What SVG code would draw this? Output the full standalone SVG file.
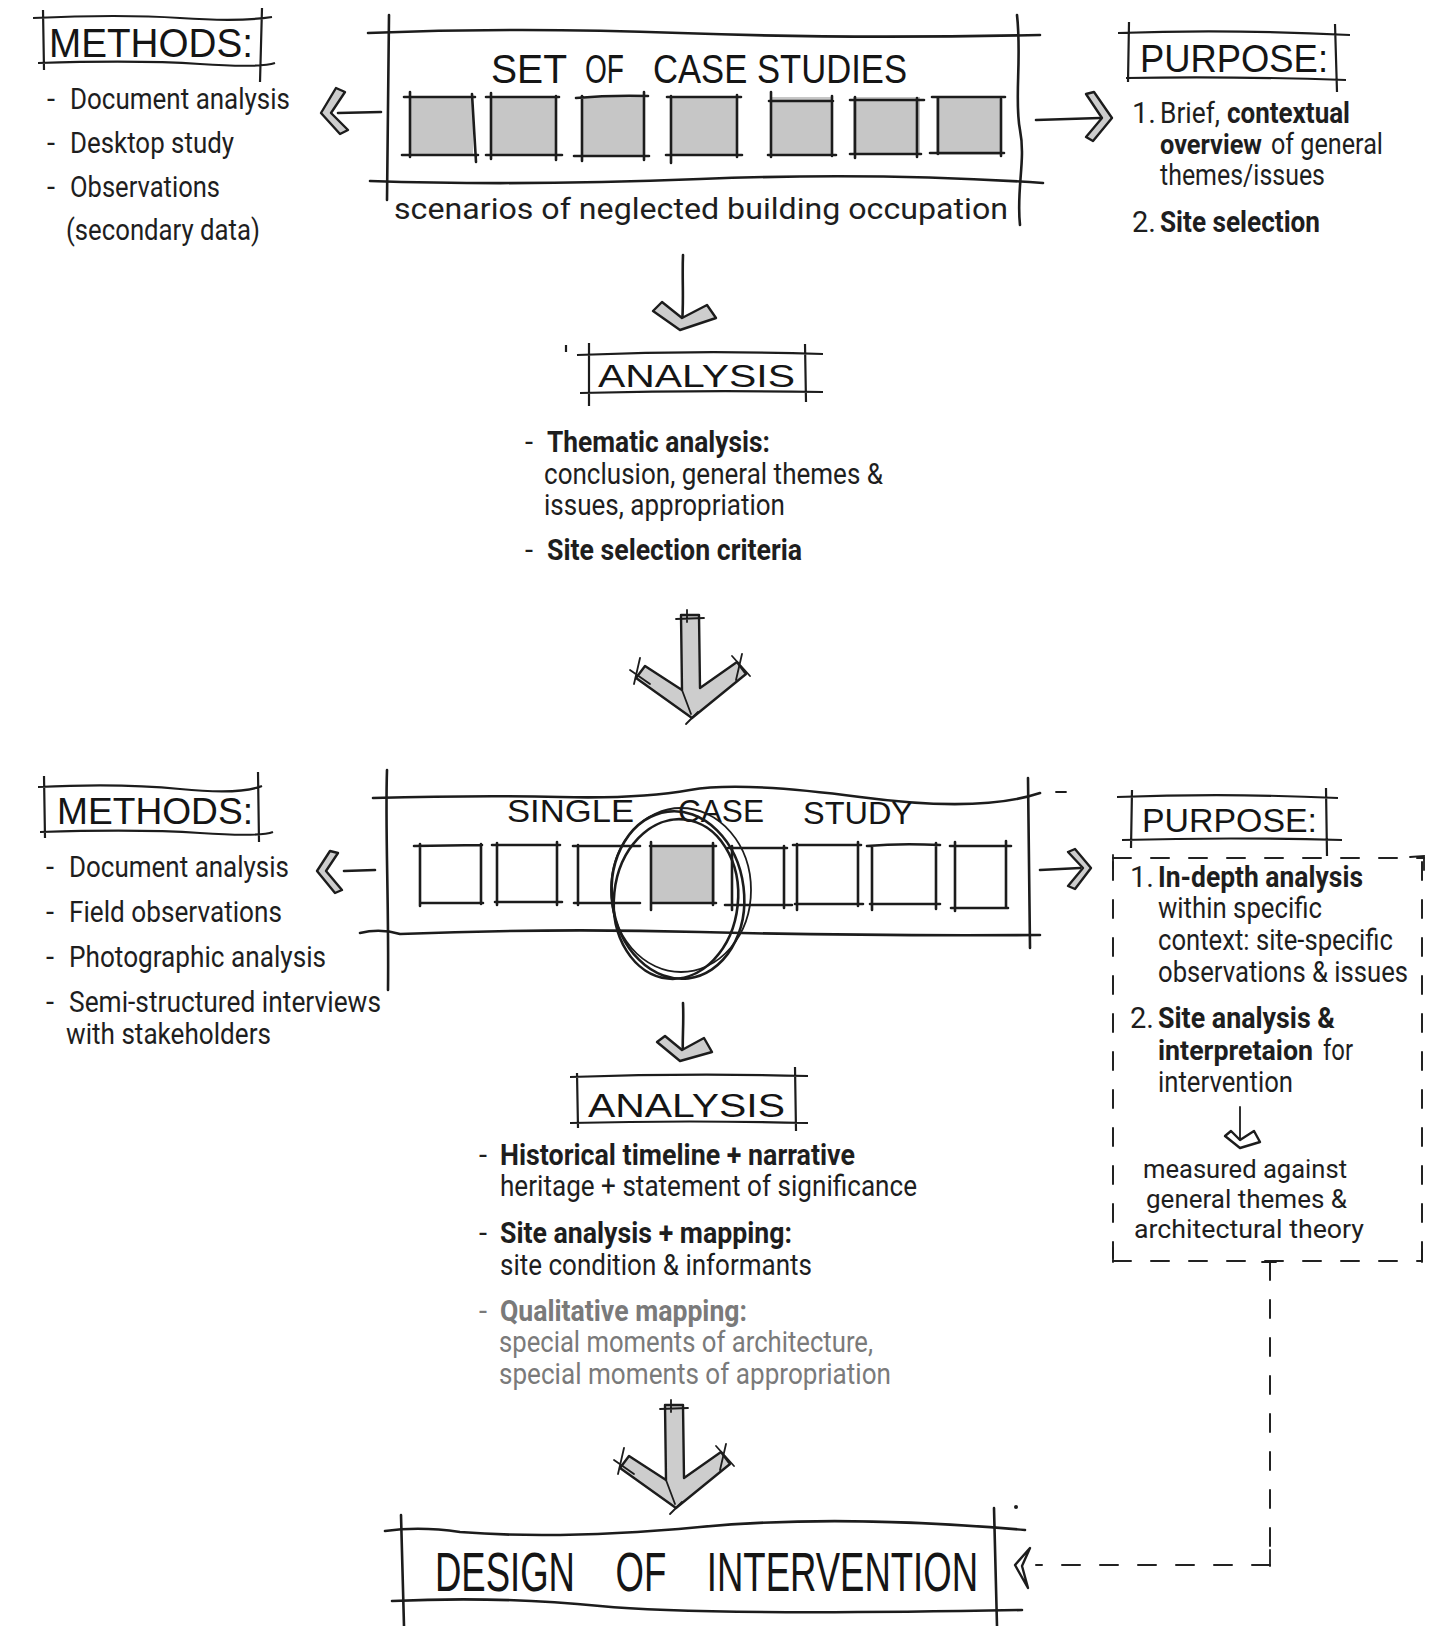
<svg xmlns="http://www.w3.org/2000/svg" xmlns:xlink="http://www.w3.org/1999/xlink" width="1440" height="1626" viewBox="0 0 1440 1626">
<style>
.ln{fill:none;stroke:#1c1c1c;stroke-width:2.6;stroke-linecap:round;stroke-linejoin:round}
.th{fill:none;stroke:#1c1c1c;stroke-width:1.8;stroke-linecap:round}
.ds{fill:none;stroke:#222;stroke-width:2;stroke-dasharray:18 20;stroke-linecap:round}
.sq{fill:#c6c6c6;stroke:none}
.hd{fill:#cdcdcd;stroke:#1c1c1c;stroke-width:2.4;stroke-linejoin:round}
.hw{fill:none;stroke:#1c1c1c;stroke-width:2.2;stroke-linejoin:round}
.t{font-family:Roboto,"Noto Sans","Liberation Sans",sans-serif;font-size:29px;fill:#1e1e1e}
.s{font-size:25px}
.m{font-size:27px}
.b{font-weight:700}
.g{fill:#7a7a7a}
.h{font-family:"Liberation Sans","DejaVu Sans",sans-serif;fill:#151515}
</style>
<defs>
<g id="bigArrow">
<polygon class="hd" points="-11,-103 7,-103 8,-30 45,-56 54,-44 0,0 -56,-40 -47,-52 -10,-28"/>
<path class="th" d="M-16,-99 L12,-100 M-5,-108 L-5,-96 M-10,-28 L-1,-4 M-62,-48 L-42,-34 M-52,-60 L-58,-34 M40,-62 L58,-42 M50,-64 L44,-38 M-6,6 L6,-6"/>
</g>
</defs>
<rect width="1440" height="1626" fill="#ffffff"/>

<g id="connectors">
<path class="ln" d="M381,112 L338,113"/>
<polygon class="hd" points="336,88 345,92 331,113 348,130 340,134 321,113"/>
<path class="ln" d="M1036,120 L1100,118"/>
<polygon class="hd" points="1086,94 1094,92 1112,118 1093,141 1086,137 1102,118"/>
<path class="ln" d="M683,255 C682,280 684,300 682,324"/>
<polygon class="hd" points="653,311 662,302 682,318 707,305 716,318 680,330"/>
<use xlink:href="#bigArrow" x="692" y="718"/>
<path class="ln" d="M375,870 L344,871"/>
<polygon class="hd" points="330,851 338,853 326,871 342,890 335,893 317,871"/>
<path class="ln" d="M1040,870 L1080,868"/>
<polygon class="hd" points="1068,852 1075,849 1091,868 1075,889 1068,886 1083,868"/>
<path class="ln" d="M683,1003 C684,1025 682,1040 683,1056"/>
<polygon class="hd" points="657,1042 665,1036 682,1050 704,1038 712,1052 680,1061"/>
<use xlink:href="#bigArrow" x="676" y="1508"/>
<path class="th" d="M1240,1107 L1240,1142"/>
<polygon class="hd" style="fill:#fff" points="1225,1136 1231,1131 1240,1140 1254,1131 1260,1142 1240,1148"/>
<path class="ds" d="M1113,858 L1424,858"/>
<path class="ds" d="M1113,862 L1113,1258"/>
<path class="ds" d="M1422,862 L1422,1262"/>
<path class="ds" d="M1113,1261 L1422,1261"/>
<path class="th" d="M1113,855 L1113,868 M1410,857 L1424,856 L1424,870 M1113,1248 L1113,1262 M1422,1250 L1422,1262"/>
<path class="ds" d="M1270,1262 L1270,1565"/>
<path class="ds" d="M1270,1565 L1036,1565"/>
<path class="th" d="M1262,1262 L1276,1262 M1270,1550 L1270,1566"/>
<polygon class="hd" style="fill:#fff" points="1030,1548 1015,1565 1028,1588 1022,1566"/>
</g>

<g id="methods1">
<path class="hw" d="M33,18 Q120,14 180,18 T272,17 M38,63 Q140,60 200,64 T275,63 M43,10 L44,70 M262,8 L260,82"/>
<text class="h" x="49" y="57" font-size="40" textLength="204" lengthAdjust="spacingAndGlyphs">METHODS:</text>
<text class="t" x="47" y="109">-</text>
<text class="t" x="70" y="109" textLength="220" lengthAdjust="spacingAndGlyphs">Document analysis</text>
<text class="t" x="47" y="153">-</text>
<text class="t" x="70" y="153" textLength="164" lengthAdjust="spacingAndGlyphs">Desktop study</text>
<text class="t" x="47" y="197">-</text>
<text class="t" x="70" y="197" textLength="150" lengthAdjust="spacingAndGlyphs">Observations</text>
<text class="t" x="66" y="240" textLength="194" lengthAdjust="spacingAndGlyphs">(secondary data)</text>
</g>

<g id="caseStudies">
<path class="ln" d="M368,33 Q520,27 680,33 T1040,35"/>
<path class="ln" d="M370,181 Q520,186 700,179 T1043,183"/>
<path class="ln" d="M389,15 L387,200"/>
<path class="ln" d="M1017,15 C1022,60 1014,100 1020,130 S1016,190 1020,225"/>
<text class="h" font-size="40" x="491" y="83" textLength="76" lengthAdjust="spacingAndGlyphs">SET</text>
<text class="h" font-size="40" x="585" y="83" textLength="39" lengthAdjust="spacingAndGlyphs">OF</text>
<text class="h" font-size="40" x="653" y="83" textLength="254" lengthAdjust="spacingAndGlyphs">CASE STUDIES</text>
<rect class="sq" x="410" y="97" width="63" height="58"/>
<rect class="sq" x="491" y="97" width="66" height="58"/>
<rect class="sq" x="582" y="97" width="63" height="58"/>
<rect class="sq" x="671" y="97" width="67" height="58"/>
<rect class="sq" x="771" y="97" width="61" height="58"/>
<rect class="sq" x="853" y="97" width="67" height="58"/>
<rect class="sq" x="936" y="97" width="66" height="58"/>
<path class="ln" d="M404,97 H475 M410,92 V157 M472,94 L476,162 M402,155 H478
M486,97 H559 M491,93 V159 M556,96 V160 M486,155 H562
M576,98 Q610,95 648,96 M582,96 V161 M644,92 V160 M574,156 H649
M667,97 H741 M671,96 V163 M737,95 V157 M666,155 H742
M771,92 V157 M769,101 H833 M832,96 V156 M768,155 H836
M850,100 H924 M855,97 V158 M917,98 V157 M850,154 H921
M932,97 H1005 M938,97 V154 M1001,99 V156 M930,153 H1004"/>
<text class="t" x="394" y="219" font-size="36" textLength="614" lengthAdjust="spacingAndGlyphs">scenarios of neglected building occupation</text>
</g>

<g id="purpose1">
<path class="hw" d="M1118,33 Q1230,29 1350,35 M1126,78 Q1230,76 1346,80 M1129,22 L1128,82 M1335,24 L1337,92"/>
<text class="h" x="1140" y="72" font-size="38" textLength="188" lengthAdjust="spacingAndGlyphs">PURPOSE:</text>
<text class="t" x="1132" y="123">1.</text>
<text class="t" x="1160" y="123" font-size="28" textLength="60" lengthAdjust="spacingAndGlyphs">Brief,</text>
<text class="t b" x="1227" y="123" textLength="123" lengthAdjust="spacingAndGlyphs">contextual</text>
<text class="t b m" x="1160" y="154" textLength="102" lengthAdjust="spacingAndGlyphs">overview</text>
<text class="t" x="1271" y="154" textLength="112" lengthAdjust="spacingAndGlyphs">of general</text>
<text class="t" x="1160" y="185" textLength="165" lengthAdjust="spacingAndGlyphs">themes/issues</text>
<text class="t" x="1132" y="232">2.</text>
<text class="t b" x="1160" y="232" textLength="160" lengthAdjust="spacingAndGlyphs">Site selection</text>
</g>

<g id="analysis1">
<path class="hw" d="M577,355 Q700,350 823,354 M580,393 Q700,390 823,392 M589,343 L589,406 M805,344 L806,402 M566,345 L566,352"/>
<text class="h" x="598" y="387" font-size="32" textLength="197" lengthAdjust="spacingAndGlyphs">ANALYSIS</text>
<text class="t" x="525" y="452">-</text>
<text class="t b" x="547" y="452" textLength="223" lengthAdjust="spacingAndGlyphs">Thematic analysis:</text>
<text class="t" x="544" y="484" textLength="339" lengthAdjust="spacingAndGlyphs">conclusion, general themes &amp;</text>
<text class="t" x="544" y="515" textLength="241" lengthAdjust="spacingAndGlyphs">issues, appropriation</text>
<text class="t" x="525" y="560">-</text>
<text class="t b" x="547" y="560" textLength="255" lengthAdjust="spacingAndGlyphs">Site selection criteria</text>
</g>

<g id="methods2">
<path class="hw" d="M38,787 Q120,783 180,789 T262,786 M40,832 Q140,829 200,833 T273,832 M44,776 L45,838 M258,772 L259,842"/>
<text class="h" x="57" y="824" font-size="36" textLength="196" lengthAdjust="spacingAndGlyphs">METHODS:</text>
<text class="t" x="46" y="877">-</text>
<text class="t" x="69" y="877" textLength="220" lengthAdjust="spacingAndGlyphs">Document analysis</text>
<text class="t" x="46" y="922">-</text>
<text class="t" x="69" y="922" textLength="213" lengthAdjust="spacingAndGlyphs">Field observations</text>
<text class="t" x="46" y="967">-</text>
<text class="t" x="69" y="967" textLength="257" lengthAdjust="spacingAndGlyphs">Photographic analysis</text>
<text class="t" x="46" y="1012">-</text>
<text class="t" x="69" y="1012" textLength="312" lengthAdjust="spacingAndGlyphs">Semi-structured interviews</text>
<text class="t" x="66" y="1044" textLength="205" lengthAdjust="spacingAndGlyphs">with stakeholders</text>
</g>

<g id="singleCase">
<path class="ln" d="M373,798 Q480,795 560,797 T690,790 T860,797 T1040,793"/>
<path class="ln" d="M360,933 Q380,928 400,934 Q550,928 700,932 T1040,935"/>
<path class="ln" d="M387,770 C385,830 389,900 388,990"/>
<path class="ln" d="M1028,778 L1030,948"/>
<path class="th" d="M1056,792 L1066,792"/>
<text class="h" font-size="32" x="507" y="822" textLength="127" lengthAdjust="spacingAndGlyphs">SINGLE</text>
<text class="h" font-size="32" x="678" y="822" textLength="86" lengthAdjust="spacingAndGlyphs">CASE</text>
<text class="h" font-size="32" x="803" y="824" textLength="110" lengthAdjust="spacingAndGlyphs">STUDY</text>
<rect class="sq" x="651" y="846" width="64" height="58"/>
<path class="ln" d="M414,846 L482,845 M420,844 V906 M481,844 V904 M420,903 H483
M492,845 H560 M497,843 V905 M557,842 V905 M495,902 H562
M573,846 H640 M578,845 V905 M574,903 H640
M651,842 V910 M650,846 H716 M713,843 V905 M652,903 H716
M728,848 H787 M732,846 V910 M784,846 V908 M725,905 H792
M793,845 H861 M797,844 V910 M858,842 V906 M795,904 H863
M867,846 Q900,843 940,845 M872,846 V910 M936,843 V909 M870,904 H940
M950,846 H1011 M955,842 V911 M1006,841 V908 M951,908 H1008"/>
<ellipse class="ln" cx="678" cy="895" rx="66" ry="84" transform="rotate(-7 678 895)"/>
<ellipse class="ln" cx="676" cy="899" rx="62" ry="80" transform="rotate(6 676 899)"/>
<ellipse class="th" cx="681" cy="890" rx="70" ry="82"/>
</g>

<g id="purpose2">
<path class="hw" d="M1117,797 Q1230,793 1338,798 M1122,840 Q1230,837 1342,840 M1132,790 L1131,848 M1326,788 L1327,856"/>
<text class="h" x="1142" y="832" font-size="34" textLength="175" lengthAdjust="spacingAndGlyphs">PURPOSE:</text>
<text class="t" x="1130" y="887">1.</text>
<text class="t b" x="1158" y="887" textLength="205" lengthAdjust="spacingAndGlyphs">In-depth analysis</text>
<text class="t" x="1158" y="918" textLength="164" lengthAdjust="spacingAndGlyphs">within specific</text>
<text class="t" x="1158" y="950" textLength="235" lengthAdjust="spacingAndGlyphs">context: site-specific</text>
<text class="t" x="1158" y="982" textLength="250" lengthAdjust="spacingAndGlyphs">observations &amp; issues</text>
<text class="t" x="1130" y="1028">2.</text>
<text class="t b" x="1158" y="1028" textLength="177" lengthAdjust="spacingAndGlyphs">Site analysis &amp;</text>
<text class="t b m" x="1158" y="1060" textLength="155" lengthAdjust="spacingAndGlyphs">interpretaion</text>
<text class="t" x="1323" y="1060" textLength="30" lengthAdjust="spacingAndGlyphs">for</text>
<text class="t" x="1158" y="1092" textLength="135" lengthAdjust="spacingAndGlyphs">intervention</text>
<text class="t s" x="1143" y="1178" textLength="204" lengthAdjust="spacingAndGlyphs">measured against</text>
<text class="t s" x="1146" y="1208" textLength="201" lengthAdjust="spacingAndGlyphs">general themes &amp;</text>
<text class="t s" x="1134" y="1238" textLength="230" lengthAdjust="spacingAndGlyphs">architectural theory</text>
</g>

<g id="analysis2">
<path class="hw" d="M570,1077 Q690,1073 808,1076 M570,1123 Q690,1120 808,1123 M577,1073 L578,1128 M795,1067 L796,1131"/>
<text class="h" x="588" y="1117" font-size="34" textLength="197" lengthAdjust="spacingAndGlyphs">ANALYSIS</text>
<text class="t" x="479" y="1165">-</text>
<text class="t b" x="500" y="1165" textLength="355" lengthAdjust="spacingAndGlyphs">Historical timeline + narrative</text>
<text class="t" x="500" y="1196" textLength="417" lengthAdjust="spacingAndGlyphs">heritage + statement of significance</text>
<text class="t" x="479" y="1243">-</text>
<text class="t b" x="500" y="1243" textLength="292" lengthAdjust="spacingAndGlyphs">Site analysis + mapping:</text>
<text class="t" x="500" y="1275" textLength="312" lengthAdjust="spacingAndGlyphs">site condition &amp; informants</text>
<text class="t g" x="479" y="1321">-</text>
<text class="t b g" x="500" y="1321" textLength="247" lengthAdjust="spacingAndGlyphs">Qualitative mapping:</text>
<text class="t g" x="499" y="1352" textLength="374" lengthAdjust="spacingAndGlyphs">special moments of architecture,</text>
<text class="t g" x="499" y="1384" textLength="392" lengthAdjust="spacingAndGlyphs">special moments of appropriation</text>
</g>

<g id="design">
<path class="ln" d="M385,1531 Q420,1526 460,1532 Q560,1540 700,1527 T1025,1530"/>
<path class="ln" d="M392,1601 Q500,1596 600,1606 T1022,1610"/>
<path class="ln" d="M401,1515 L404,1626"/>
<path class="ln" d="M994,1508 L997,1626"/>
<circle cx="1016" cy="1507" r="2" fill="#1c1c1c"/>
<text class="h" font-size="56" x="435" y="1591" textLength="543" lengthAdjust="spacingAndGlyphs">DESIGN&#160;&#160;&#160;&#160;OF&#160;&#160;&#160;&#160;INTERVENTION</text>
</g>
</svg>
